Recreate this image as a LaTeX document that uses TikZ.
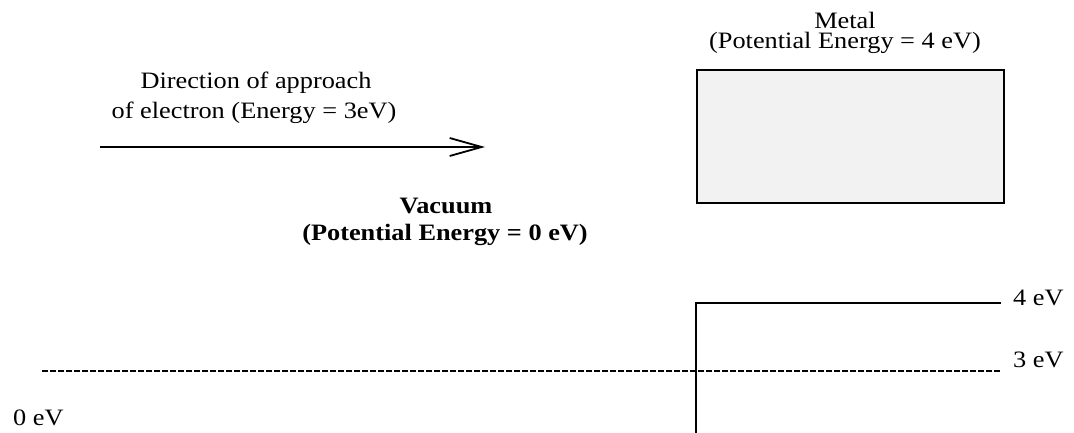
\documentclass[tikz,border=0pt]{standalone}
\usepackage{fontspec}
\setmainfont[FakeStretch=1.12]{Liberation Serif}
\usetikzlibrary{arrows.meta}
\begin{document}
\begin{tikzpicture}[x=1pt,y=-1pt,
  lbl/.style={inner sep=0pt,font=\fontsize{23.5}{28}\selectfont},
  blbl/.style={inner sep=0pt,font=\fontsize{23.5}{28}\selectfont\bfseries},
  solidline/.style={line width=2pt},
  dashline/.style={line width=1.5pt,dash pattern=on 6pt off 2pt}]
\useasboundingbox (0,0) rectangle (1074,433);
% metal box
\node[draw,line width=2pt,fill=black!5,minimum width=307pt,minimum height=133pt,inner sep=0pt,anchor=north west] (metal) at (696,69) {};
\node[lbl,anchor=base,align=center,font=\fontsize{23.5}{20}\selectfont] (metaltxt) at (845,48.5) {Metal\\(Potential Energy = 4 eV)};
% direction
\node[lbl,anchor=base] (dir1) at (256,89) {Direction of approach};
\node[lbl,anchor=base] (dir2) at (254,119) {of electron (Energy = 3eV)};
\coordinate (arrA) at (100,147);
\coordinate (arrB) at (485,147);
\draw[solidline,-{Straight Barb[length=32pt,width=18pt,line width=1.8pt]}] (arrA) -- (arrB);
% vacuum
\node[blbl,anchor=base] (vac1) at (446,213) {Vacuum};
\node[blbl,anchor=base] (vac2) at (445,240) {(Potential Energy = 0 eV)};
% potential step
\coordinate (stepBot) at (696,433);
\coordinate (stepCorner) at (696,302.5);
\coordinate (stepEnd) at (1001,302.5);
\draw[solidline] (stepBot) -- (stepCorner) -- (stepEnd);
% dashed 3 eV line
\coordinate (dashA) at (42,371);
\coordinate (dashB) at (1000,371);
\draw[dashline] (dashA) -- (dashB);
% labels
\node[lbl,anchor=base west] (l4) at (1013,305) {4 eV};
\node[lbl,anchor=base west] (l3) at (1013,367) {3 eV};
\node[lbl,anchor=base west] (l0) at (13,425) {0 eV};
\end{tikzpicture}
\end{document}
